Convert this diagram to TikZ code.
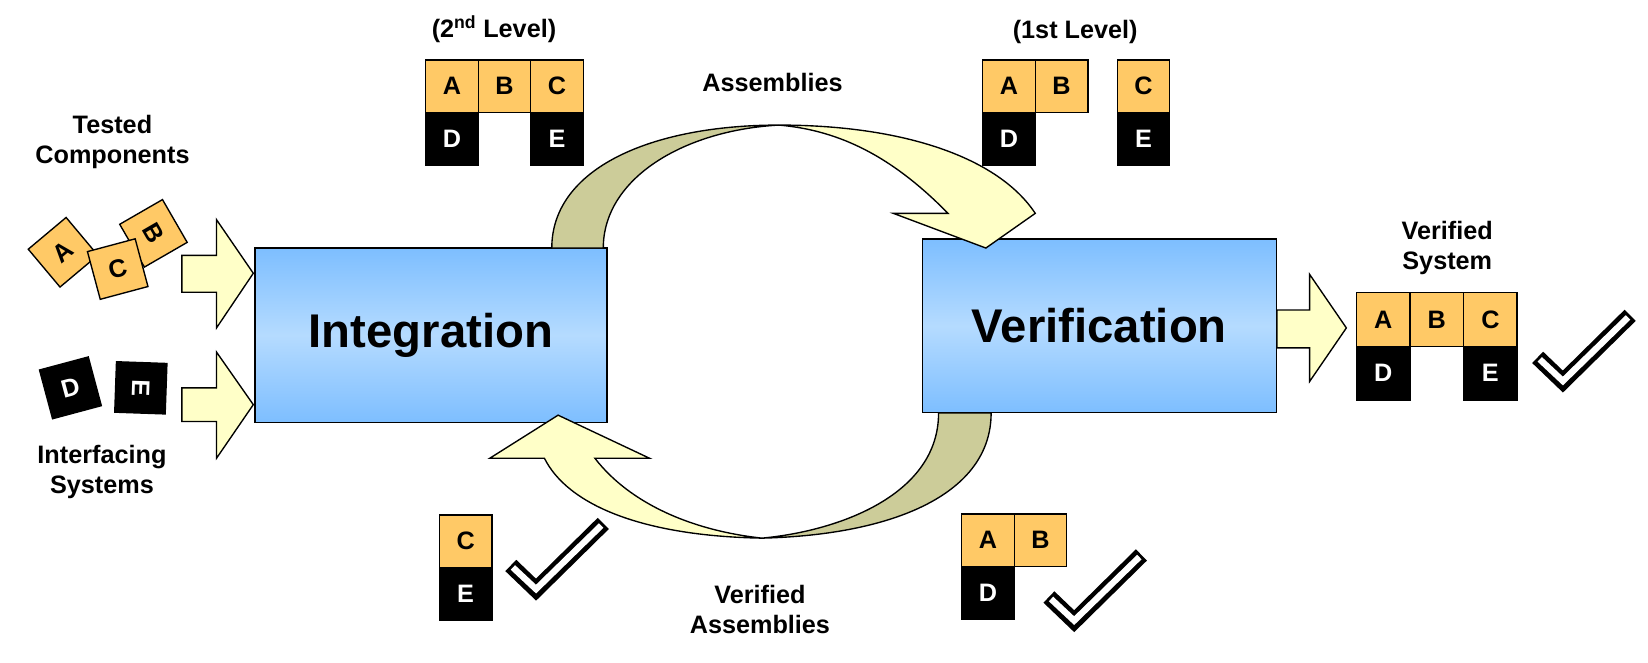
\documentclass[tikz,border=0pt]{standalone}
\usepackage{fontspec}
\setmainfont{Liberation Sans}
\begin{document}
\begin{tikzpicture}[x=1pt,y=-1pt,
  lbl/.style={font=\fontsize{24}{28}\selectfont\bfseries,align=center},
  og/.style={draw,line width=1.3pt,fill=ora,minimum size=50pt,inner sep=0pt,font=\fontsize{24}{28}\selectfont\bfseries},
  bk/.style={draw,line width=1.3pt,fill=black,text=white,minimum size=50pt,inner sep=0pt,font=\fontsize{24}{28}\selectfont\bfseries},
  proc/.style={draw,line width=1.3pt,top color=bl1,bottom color=bl1,middle color=bl2,font=\fontsize{45}{50}\selectfont\bfseries,inner sep=0pt},
  fat/.style={draw,line width=1.3pt,fill=yel,line join=miter},
  rib/.style={draw,line width=1.3pt,line join=miter}]
\definecolor{ora}{HTML}{FFC966}
\definecolor{bl1}{HTML}{7DBEFF}
\definecolor{bl2}{HTML}{B5DBFF}
\definecolor{yel}{HTML}{FFFFC8}
\definecolor{oli}{HTML}{CCCC99}
\useasboundingbox (0,0) rectangle (1568,630);
\tikzset{chk/.pic={\draw[line width=15pt,line join=miter,miter limit=10] (-40,0)--(-16,23)--(48,-40);
  \draw[white,line width=6pt,line join=miter,miter limit=10] (-38,1.9)--(-16,22.5)--(46,-38);}}

% boxes
\node[proc,minimum width=335pt,minimum height=166pt] (int) at (410,319) {Integration};
\node[proc,minimum width=337pt,minimum height=165pt] (ver) at (1046,310) {Verification};

% top ribbon
\path[rib,fill=oli] (525,236) .. controls (525,160) and (620,119) .. (741,119)
   .. controls (650,124) and (574,170) .. (574,236) -- cycle;
\path[rib,fill=yel] (741,119) .. controls (860,119) and (950,150) .. (985,203)
   -- (938,236) -- (850,203) -- (902,203) .. controls (850,150) and (800,124) .. (741,119) -- cycle;
% bottom ribbon
\path[rib,fill=oli] (943,393) .. controls (943,470) and (850,509) .. (725,512)
   .. controls (800,505) and (893,470) .. (893,393) -- cycle;
\path[rib,fill=yel] (725,512) .. controls (610,510) and (540,480) .. (518,436)
   -- (466,436) -- (531,395) -- (618,436) -- (566,436) .. controls (600,480) and (660,505) .. (725,512) -- cycle;

% fat arrows
\path[fat] (173,243) -- (206,243) -- (206,209) -- (241,260) -- (206,312) -- (206,278) -- (173,278) -- cycle;
\path[fat] (173,369) -- (206,369) -- (206,335) -- (241,385) -- (206,436) -- (206,401) -- (173,401) -- cycle;
\path[fat] (1215,295) -- (1246,295) -- (1246,261) -- (1281,312) -- (1246,363) -- (1246,331) -- (1215,331) -- cycle;

% scattered components
\node[og,minimum size=47pt,rotate=40] (sA) at (60,240) {A};
\node[og,minimum size=47pt,rotate=-60] (sB) at (146,222) {B};
\node[og,minimum size=47pt,rotate=15] (sC) at (112,256) {C};
\node[bk,minimum size=48pt,rotate=15] (sD) at (67,369) {D};
\node[bk,minimum size=48pt,rotate=-92] (sE) at (134,369) {E};

\node[lbl] (tc) at (107,135) {Tested\\Components};
\node[lbl] (is) at (97,449) {Interfacing\\Systems};

% 2nd level
\node[lbl] (l2) at (470,28) {(2\textsuperscript{nd} Level)};
\node[og] (a2) at (430,82) {A};
\node[og] (b2) at (480,82) {B};
\node[og] (c2) at (530,82) {C};
\node[bk] (d2) at (430,132) {D};
\node[bk] (e2) at (530,132) {E};
\node[lbl] (asm) at (735,78) {Assemblies};

% 1st level
\node[lbl] (l1) at (1023,30) {(1st Level)};
\node[og] (a1) at (960,82) {A};
\node[og] (b1) at (1010,82) {B};
\node[og] (c1) at (1088,82) {C};
\node[bk] (d1) at (960,132) {D};
\node[bk] (e1) at (1088,132) {E};

% verified system
\node[lbl] (vs) at (1377,236) {Verified\\System};
\node[og,minimum size=51pt] (a3) at (1316,304) {A};
\node[og,minimum size=51pt] (b3) at (1367,304) {B};
\node[og,minimum size=51pt] (c3) at (1418,304) {C};
\node[bk,minimum size=51pt] (d3) at (1316,355) {D};
\node[bk,minimum size=51pt] (e3) at (1418,355) {E};
\pic at (1503,340) {chk};

% verified assemblies
\node[og] (c4) at (443,515) {C};
\node[bk] (e4) at (443,565) {E};
\pic at (526,538) {chk};
\node[og] (a5) at (940,514) {A};
\node[og] (b5) at (990,514) {B};
\node[bk] (d5) at (940,564) {D};
\pic at (1038,568) {chk};
\node[lbl] (va) at (723,580) {Verified\\Assemblies};
\end{tikzpicture}
\end{document}
